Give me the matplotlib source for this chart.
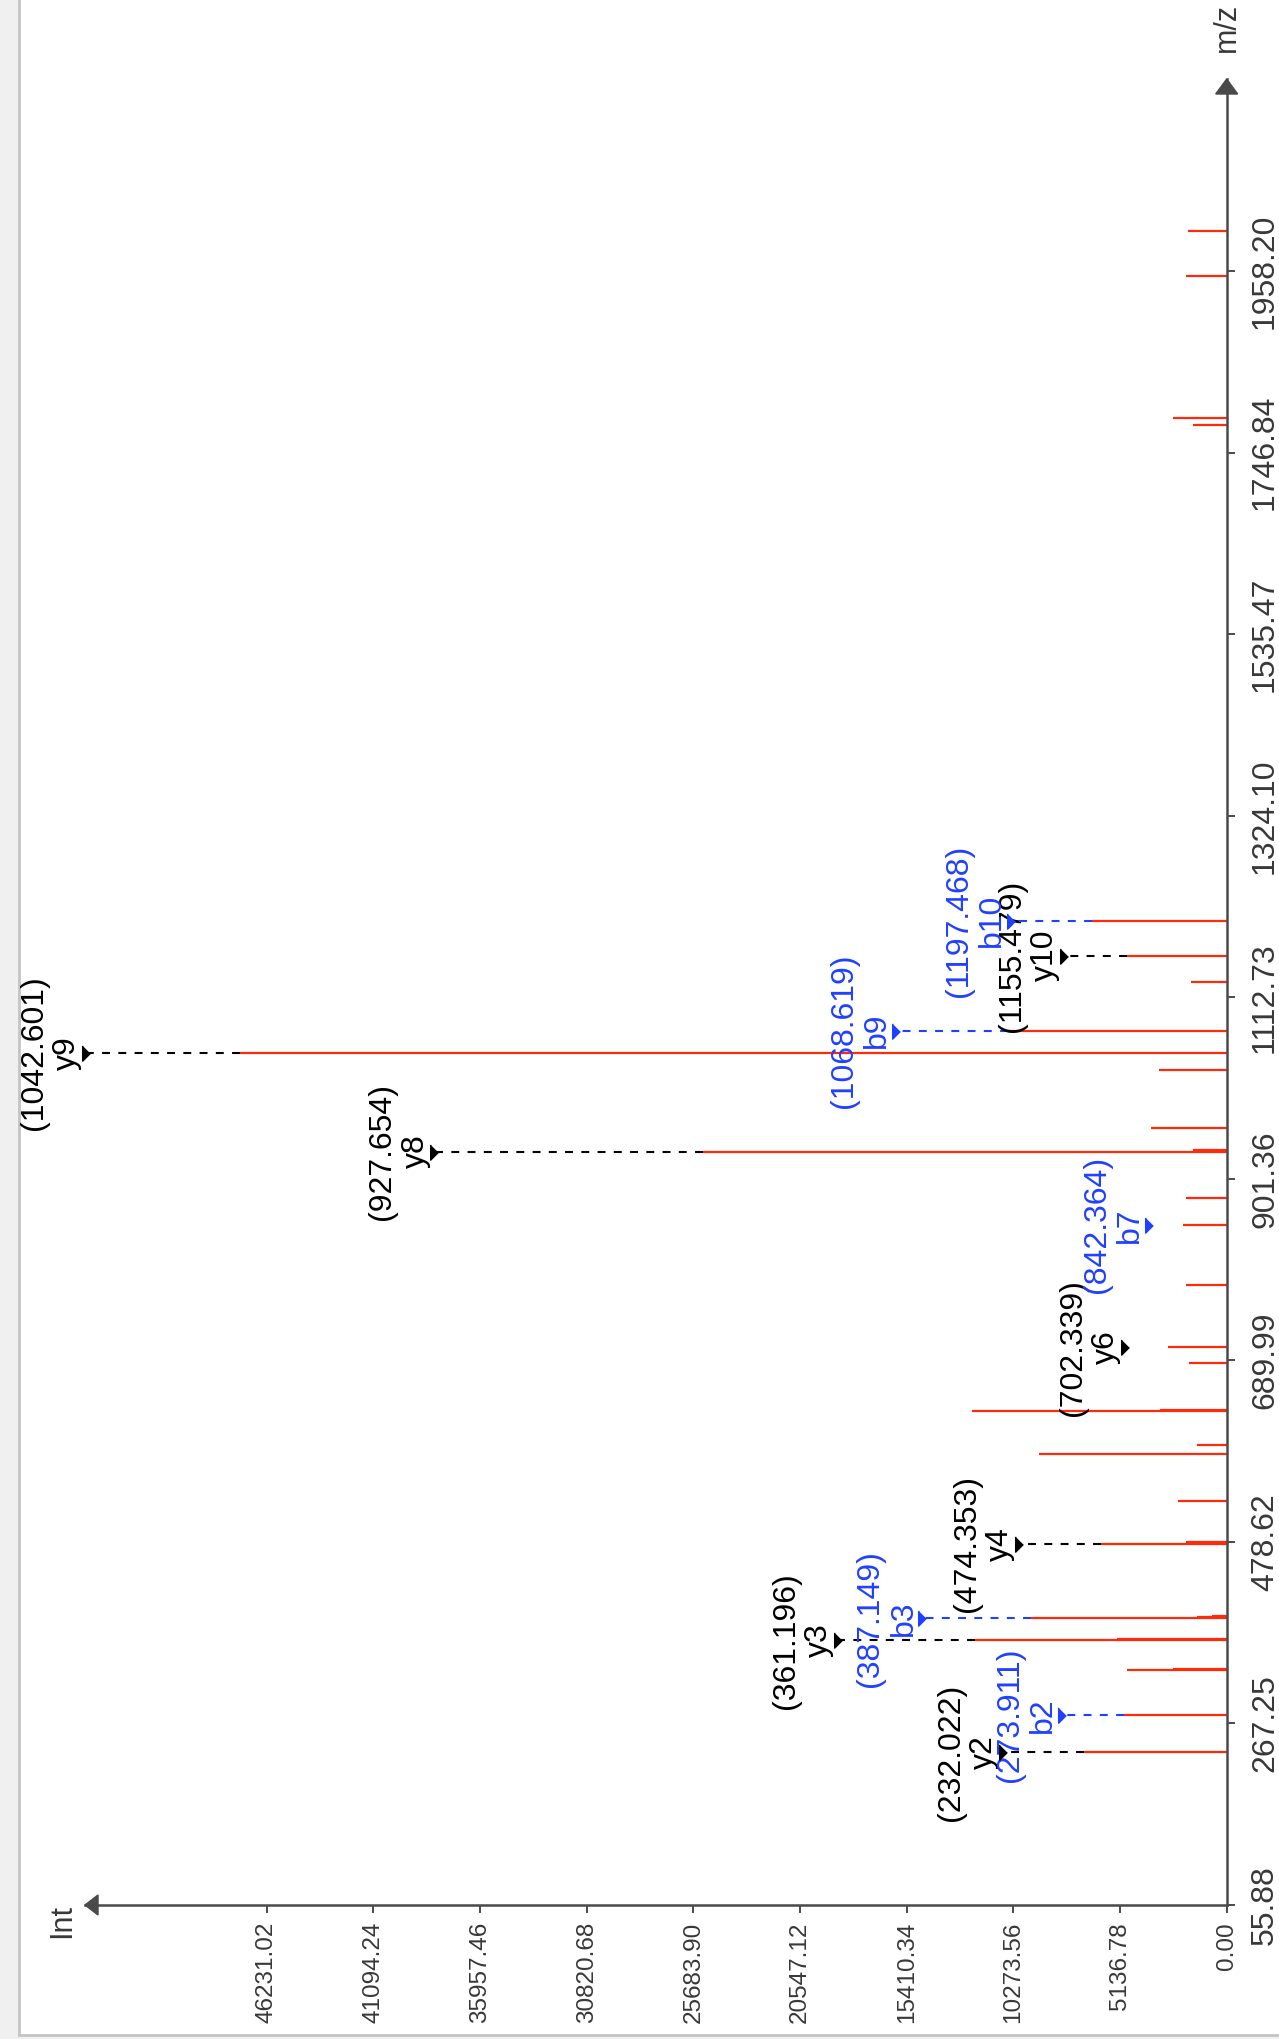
import matplotlib
matplotlib.use('Agg')
import matplotlib.pyplot as plt
from matplotlib.patches import Polygon, Rectangle

plt.rcParams['font.family'] = ['Liberation Sans', 'DejaVu Sans']

mz = [233.6, 277.0, 329.3, 331.0, 364.2, 365.9, 389.5, 391.2, 392.6,
      476.7, 478.4, 526.0, 581.5, 591.1, 631.0, 632.7, 687.4, 705.5,
      777.3, 847.9, 878.9, 933.2, 934.9, 960.3, 1028.3, 1048.0, 1074.0,
      1131.0, 1161.2, 1201.9, 1778.6, 1787.6, 1952.4, 2004.7]
intensity = [6870, 4950, 4790, 2600, 12120, 5300, 9440, 1450, 700,
             6070, 1960, 2360, 9030, 1450, 12250, 3210, 1800, 2840,
             1960, 2090, 1960, 25210, 1620, 3650, 3250, 47520, 10530,
             1720, 4820, 6500, 1610, 2600, 1970, 1880]

# annotated fragment ions
ion_names = ['y2', 'b2', 'y3', 'b3', 'y4', 'y6', 'b7', 'y8', 'y9', 'b9', 'y10', 'b10']
ion_values = ['(232.022)', '(273.911)', '(361.196)', '(387.149)', '(474.353)',
              '(702.339)', '(842.364)', '(927.654)', '(1042.601)', '(1068.619)',
              '(1155.479)', '(1197.468)']
ion_peak_mz = [233.6, 277.0, 364.2, 389.5, 476.7, 705.5, 847.9, 933.2, 1048.0,
               1074.0, 1161.2, 1201.9]
ion_marker_int = [10795, 7955, 18740, 14650, 10025, 4900, 3740, 38150, 54930,
                  15925, 7835, 10400]

mz_ticks = ['55.88', '267.25', '478.62', '689.99', '901.36', '1112.73',
            '1324.10', '1535.47', '1746.84', '1958.20']
int_ticks = ['0.00', '5136.78', '10273.56', '15410.34', '20547.12', '25683.90',
             '30820.68', '35957.46', '41094.24', '46231.02']

RED = '#ff2a0a'
BLUE = '#2040ff'
AXIS = '#4a4a4a'

W_PX, H_PX = 1279, 2039
fig = plt.figure(figsize=(W_PX / 100, H_PX / 100), dpi=100, facecolor='#f0f0f0')
fig.patches.append(Rectangle((19 / W_PX, 1 - 2035 / H_PX), 1, 1, transform=fig.transFigure,
                             facecolor='white', edgecolor='#c4c4c4', lw=2, zorder=-10))

ax_l, ax_r, ax_t, ax_b = 85, 1226.7, 79, 1905
ax = fig.add_axes([ax_l / W_PX, 1 - ax_b / H_PX, (ax_r - ax_l) / W_PX, (ax_b - ax_t) / H_PX])
ax.set_zorder(5)
ax.patch.set_visible(False)
ax.set_xlim(54980, 0)
ax.set_ylim(55.88, 2182)

for s in ['top', 'left']:
    ax.spines[s].set_visible(False)
for s in ['right', 'bottom']:
    ax.spines[s].set_color(AXIS)
    ax.spines[s].set_linewidth(1.8)

ax.yaxis.tick_right()
ax.set_yticks([float(t) for t in mz_ticks])
ax.set_yticklabels(mz_ticks, rotation=90, va='center', fontsize=23, color='#383838')
ax.set_xticks([float(t) for t in int_ticks])
ax.set_xticklabels(int_ticks, rotation=90, fontsize=17.5, color='#383838')
ax.tick_params(axis='y', length=5.8, width=1.4, color=AXIS, pad=11)
ax.tick_params(axis='x', length=5.8, width=1.4, color=AXIS, pad=6.5)

# arrow heads at the ends of both axes
aw, ah = ax_r - ax_l, ax_b - ax_t
ax.add_patch(Polygon([(1, 1), (1 - 11 / aw, 1 - 15 / ah), (1 + 11 / aw, 1 - 15 / ah)],
                     closed=True, transform=ax.transAxes, color=AXIS, clip_on=False))
ax.add_patch(Polygon([(0, 0), (13 / aw, 10 / ah), (13 / aw, -10 / ah)],
                     closed=True, transform=ax.transAxes, color=AXIS, clip_on=False))
fig.text(1227 / W_PX, 1 - 27 / H_PX, 'm/z', rotation=90, ha='center', va='center',
         fontsize=22, color='#383838')
fig.text(62 / W_PX, 1 - 1921 / H_PX, 'Int', rotation=90, ha='center', va='center',
         fontsize=22, color='#383838')

# spectrum
ax.hlines(mz, 0, intensity, color=RED, lw=1.6, zorder=2)

# ion annotations
tri = [(-0.5, 1), (-0.5, -1), (0.5, 0)]
for name, val, pmz, mint in zip(ion_names, ion_values, ion_peak_mz, ion_marker_int):
    c = BLUE if name.startswith('b') else 'black'
    pint = intensity[mz.index(pmz)]
    if mint - pint > 2500:
        ax.plot([pint, mint], [pmz, pmz], ls=(0, (3.8, 4.0)), lw=1.5, color=c,
                clip_on=False, zorder=3)
    ax.plot(mint, pmz, marker=tri, ms=11, color=c, clip_on=False, zorder=4)
    ax.annotate(name, xy=(mint, pmz), xytext=(-19 * 0.72, 0), textcoords='offset points',
                rotation=90, ha='center', va='center', fontsize=23, color=c,
                annotation_clip=False)
    ax.annotate(val, xy=(mint, pmz), xytext=(-52 * 0.72, 0), textcoords='offset points',
                rotation=90, ha='center', va='center', fontsize=23, color=c,
                annotation_clip=False)

fig.savefig('out.png', dpi=100, facecolor=fig.get_facecolor())
